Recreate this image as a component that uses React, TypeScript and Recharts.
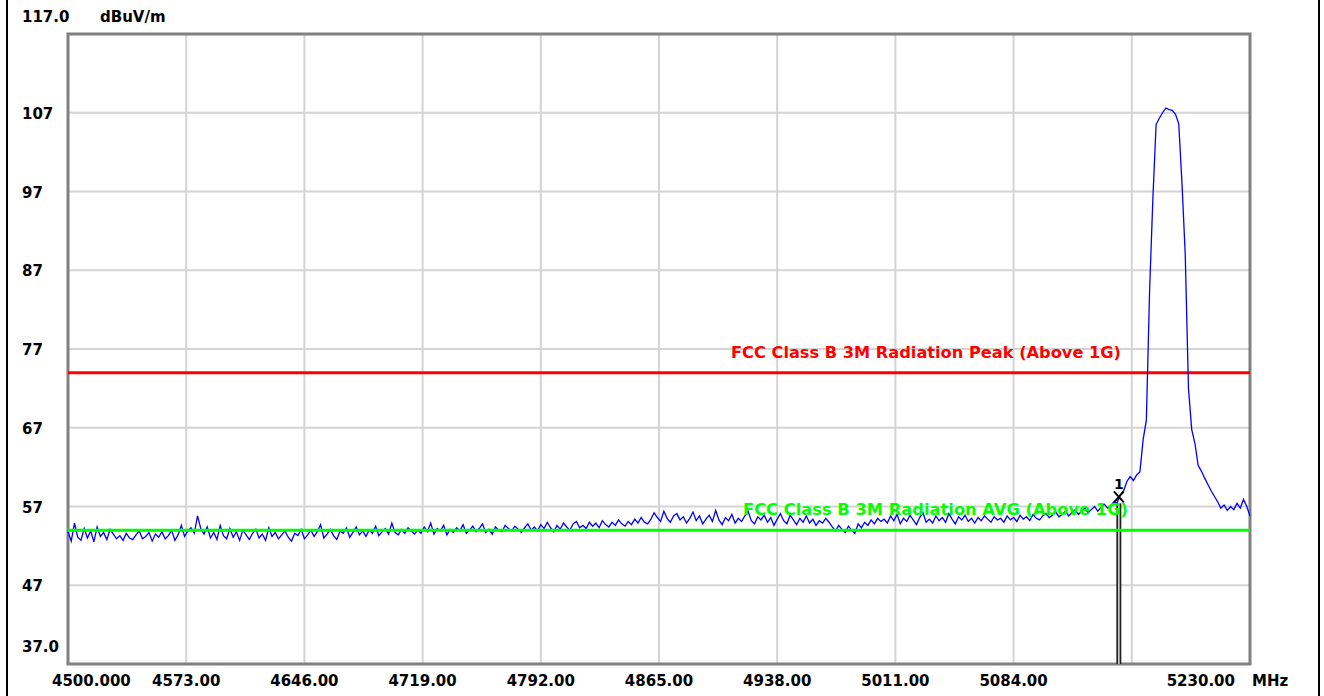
import { CartesianGrid, Line, LineChart, ReferenceArea, ReferenceDot, ReferenceLine, XAxis, YAxis } from 'recharts'

const startMHz = 4500
const stepMHz = 2
const peakStartMHz = 5148

// sweep readings, 2 MHz apart, dBuV/m
const noise1 = [
  53.8, 52.6, 54.9, 53.1, 52.7, 54.2, 53.0, 53.9, 52.5, 54.4,
  53.2, 53.7, 52.8, 54.1, 53.5, 52.9, 53.3, 52.7, 53.6, 53.0,
  52.8, 53.4, 53.9, 52.9, 53.2, 53.7, 52.6, 53.5, 53.1, 53.8,
  52.9, 53.3, 54.0, 52.7, 53.4, 54.6,
]
const noise2 = [
  53.2, 53.9, 54.3, 53.6, 55.8, 54.2, 53.5, 54.4, 53.0, 53.7,
  52.8, 54.6, 53.3, 52.9, 54.2, 53.1, 53.8, 52.7, 54.0, 53.4,
  52.8, 53.6, 54.1, 53.0, 53.5, 52.7, 54.3, 53.2, 53.7, 52.9,
  53.4, 53.9, 53.1, 52.6, 53.6, 53.3,
]
const noise3 = [
  54.1, 52.9, 53.4, 54.0, 53.2, 53.8, 54.7, 53.0, 53.5, 54.1,
  53.3, 52.8, 53.9, 53.6, 54.3, 53.1, 53.7, 54.4, 53.4, 53.9,
  53.2, 54.0, 53.6, 54.5, 53.3, 53.8, 54.2, 53.5, 54.9, 53.7,
  53.4, 54.1, 53.6, 54.3, 53.9, 53.5,
]
const noise4 = [
  54.0, 53.6, 54.4, 53.8, 54.9, 53.5, 54.2, 53.9, 54.6, 53.4,
  54.1, 53.7, 54.3, 53.9, 54.7, 53.6, 54.0, 54.5, 53.8, 54.2,
  54.8, 53.7, 54.1, 53.5, 54.4, 54.0, 53.8, 54.6, 54.2, 53.9,
  54.5, 54.1, 53.7, 54.3, 54.8, 54.0,
]
const noise5 = [
  54.4, 53.9, 54.7, 54.2, 55.0, 54.3, 53.8, 54.6, 54.1, 54.9,
  54.4, 54.0, 54.8, 55.1, 54.3, 54.6, 54.2, 55.0, 54.5, 54.9,
  54.3, 55.2, 54.7, 54.4, 55.0, 54.6, 55.3, 54.8, 54.5, 55.1,
  54.7, 55.4, 54.9, 55.6, 55.0, 54.8,
]
const noise6 = [
  55.4, 56.2, 55.6, 55.1, 56.4, 55.5, 55.0, 55.8, 56.1, 55.3,
  55.7, 54.9, 55.5, 56.3, 55.2, 55.8, 54.8, 55.4, 55.9, 55.1,
  56.5, 55.3, 54.7, 55.6, 55.2, 56.0, 54.9, 55.5, 55.1, 55.8,
  56.4, 55.2, 54.8, 55.7, 55.3, 55.9,
]
const noise7 = [
  55.0, 55.6, 54.6, 55.4, 56.1, 55.2, 54.8, 55.9, 55.3, 54.7,
  55.5, 55.0, 55.8, 54.9, 55.4, 54.6, 55.2, 54.9, 55.5, 55.0,
  54.4, 53.9, 54.6, 54.1, 53.7, 54.5, 54.0, 53.6, 54.8, 54.3,
  55.0, 54.6, 55.3, 54.8, 55.5, 55.1,
]
const noise8 = [
  55.4, 54.9, 55.8, 55.2, 56.0, 54.8, 55.5, 55.1, 55.9, 55.3,
  54.7, 55.6, 56.2, 55.0, 55.4, 54.9, 55.8, 55.2, 55.6, 55.0,
  56.1, 55.4, 54.8, 55.7, 55.3, 55.9, 55.1, 55.5, 54.9, 55.6,
  55.2, 55.8, 55.4, 55.0, 55.7, 55.3,
]
const noise9 = [
  55.5, 55.0, 55.8, 55.3, 55.6, 55.1, 55.9, 55.4, 55.7, 55.2,
  56.0, 55.5, 55.3, 55.8, 56.1, 55.6, 55.9, 56.3, 55.7, 56.0,
  56.4, 55.8, 56.2, 56.6, 56.0, 56.4, 56.8, 56.2, 56.6, 57.0,
  56.4, 56.9, 57.3, 56.8, 57.1, 57.6,
]
// 5148 .. 5230 MHz
const peak = [
  57.5, 58.5, 59.0, 60.2, 60.8, 60.3, 61.0, 61.4, 65.5, 68.0,
  84.5, 96.0, 105.5, 106.3, 107.0, 107.6, 107.4, 107.3, 106.8, 105.6,
  98.0, 89.0, 72.0, 66.8, 65.0, 62.2, 61.5, 60.6, 59.8, 59.0,
  58.3, 57.6, 56.8, 57.2, 56.5, 57.0, 56.6, 57.4, 56.8, 57.9,
  57.0, 55.8,
]

const xTicks = [4500, 4573, 4646, 4719, 4792, 4865, 4938, 5011, 5084, 5157, 5230]
const xTickLabels = ['4500.000', '4573.00', '4646.00', '4719.00', '4792.00', '4865.00', '4938.00', '5011.00', '5084.00', '', '5230.00']
const yTicks = [37, 47, 57, 67, 77, 87, 97, 107, 117]
const yTickLabels = ['37.0', '47', '57', '67', '77', '87', '97', '107', '117.0']

const peakLimit = 74
const avgLimit = 54
const peakLimitName = 'FCC Class B 3M Radiation Peak (Above 1G)'
const avgLimitName = 'FCC Class B 3M Radiation AVG (Above 1G)'
const markerMHz = 5149
const markerLevel = 57.4

const noise = [...noise1, ...noise2, ...noise3, ...noise4, ...noise5, ...noise6, ...noise7, ...noise8, ...noise9]
const data = [
  ...noise.map((v, i) => ({ f: startMHz + i * stepMHz, level: v })),
  ...peak.map((v, i) => ({ f: peakStartMHz + i * stepMHz, level: v })),
]

const FONT = '"DejaVu Sans", Verdana, sans-serif'

function XTick(props: any) {
  const { x, payload } = props
  const i = xTicks.indexOf(payload.value)
  const label = xTickLabels[i] ?? ''
  const baseline = 686
  if (i === 0) {
    return <text x={x - 16} y={baseline} fontFamily={FONT} fontWeight="bold" fontSize={15} fill="#000">{label}</text>
  }
  if (i === xTicks.length - 1) {
    return (
      <g>
        <text x={x - 15} y={baseline} textAnchor="end" fontFamily={FONT} fontWeight="bold" fontSize={15} fill="#000">{label}</text>
        <text x={x + 2} y={baseline} fontFamily={FONT} fontWeight="bold" fontSize={15} fill="#000">MHz</text>
      </g>
    )
  }
  return <text x={x} y={baseline} textAnchor="middle" fontFamily={FONT} fontWeight="bold" fontSize={15} fill="#000">{label}</text>
}

function YTick(props: any) {
  const { y, payload } = props
  const i = yTicks.indexOf(payload.value)
  const label = yTickLabels[i] ?? ''
  const edge = i === 0 || i === yTicks.length - 1
  const ty = edge ? y - 18 + 6 : y + 6
  return (
    <g>
      <text x={22} y={ty} fontFamily={FONT} fontWeight="bold" fontSize={15} fill="#000">{label}</text>
      {i === yTicks.length - 1 && (
        <text x={100} y={ty} fontFamily={FONT} fontWeight="bold" fontSize={15} fill="#000">dBuV/m</text>
      )}
    </g>
  )
}

function limitLabel(text: string, color: string, fromRight: number, width: number) {
  return (p: any) => {
    const vb = p.viewBox
    return (
      <text
        x={vb.x + vb.width - fromRight}
        y={vb.y - 15}
        textAnchor="end"
        fontFamily={FONT}
        fontWeight="bold"
        fontSize={15}
        fill={color}
        textLength={width}
        lengthAdjust="spacingAndGlyphs"
      >
        {text}
      </text>
    )
  }
}

function MarkerShape(props: any) {
  const { cx, cy } = props
  return (
    <g>
      <text x={cx} y={cy - 14} textAnchor="middle" fontFamily={FONT} fontWeight="bold" fontSize={14} fill="#000">1</text>
      <path d={`M${cx - 5},${cy - 12} L${cx + 5},${cy - 1} M${cx + 5},${cy - 12} L${cx - 5},${cy - 1}`} stroke="#000" strokeWidth={2} />
    </g>
  )
}

export default function App() {
  return (
    <div style={{ position: 'absolute', left: 0, top: 0, width: 1324, height: 696, background: '#fff' }}>
      <div style={{ position: 'absolute', left: 6, top: 0, width: 2, height: 696, background: '#000' }} />
      <div style={{ position: 'absolute', left: 1318, top: 0, width: 2, height: 696, background: '#000' }} />
      <LineChart width={1324} height={696} data={data} margin={{ top: 34, right: 74, bottom: 0, left: 0 }}>
        <CartesianGrid stroke="#d4d4d4" strokeWidth={2} />
        <XAxis
          type="number"
          dataKey="f"
          domain={[4500, 5230]}
          ticks={xTicks}
          interval={0}
          height={32}
          axisLine={false}
          tickLine={false}
          tick={<XTick />}
        />
        <YAxis
          type="number"
          domain={[37, 117]}
          ticks={yTicks}
          interval={0}
          width={68}
          axisLine={false}
          tickLine={false}
          tick={<YTick />}
        />
        <ReferenceLine
          segment={[{ x: markerMHz, y: 37 }, { x: markerMHz, y: markerLevel }]}
          stroke="#222"
          strokeWidth={5}
        />
        <ReferenceLine
          segment={[{ x: markerMHz, y: 37 }, { x: markerMHz, y: markerLevel }]}
          stroke="#e0e0e0"
          strokeWidth={1.5}
        />
        <ReferenceLine y={peakLimit} stroke="#ff0000" strokeWidth={3} label={limitLabel(peakLimitName, '#ff0000', 129, 390)} />
        <Line type="linear" dataKey="level" stroke="#0000ff" strokeWidth={1.3} dot={false} isAnimationActive={false} />
        <ReferenceLine y={avgLimit} stroke="#00ff00" strokeWidth={3} label={limitLabel(avgLimitName, '#00ff00', 122, 385)} />
        <ReferenceDot x={markerMHz} y={markerLevel} shape={<MarkerShape />} />
        <ReferenceArea x1={4500} x2={5230} y1={37} y2={117} fill="none" stroke="#808080" strokeWidth={3} />
      </LineChart>
    </div>
  )
}
